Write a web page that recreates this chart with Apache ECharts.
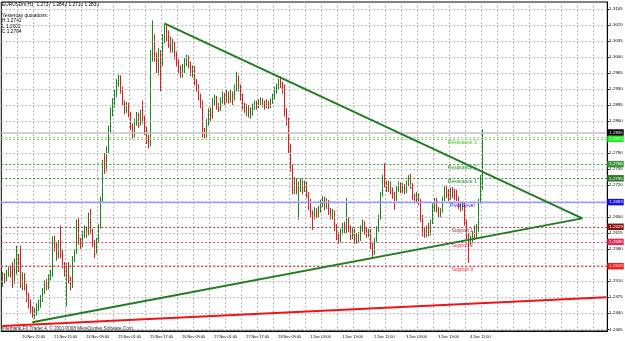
<!DOCTYPE html>
<html>
<head>
<meta charset="utf-8">
<title>EURUSDm,H1</title>
<script src="https://cdn.jsdelivr.net/npm/echarts@6/dist/echarts.min.js"></script>
<style>
  html, body { margin: 0; padding: 0; background: #fff; }
  #chart { width: 625px; height: 341px; }
</style>
</head>
<body>
<div id="chart"></div>
<script>
// EURUSDm H1 bars, 20 Nov 2008 14:00 .. 4 Dec 2008 (241 bars)
const openVals = [
  1.2505, 1.2522, 1.2512, 1.2528, 1.2535, 1.2545, 1.2510, 1.2530, 1.2560, 1.2560,
  1.2500, 1.2520, 1.2498, 1.2475, 1.2462, 1.2448, 1.2438, 1.2445, 1.2452, 1.2460,
  1.2470, 1.2490, 1.2505, 1.2498, 1.2520, 1.2528, 1.2600, 1.2585, 1.2565, 1.2585,
  1.2570, 1.2545, 1.2530, 1.2545, 1.2515, 1.2500, 1.2560, 1.2575, 1.2640, 1.2598,
  1.2590, 1.2612, 1.2625, 1.2615, 1.2655, 1.2620, 1.2595, 1.2578, 1.2600, 1.2630,
  1.2690, 1.2770, 1.2755, 1.2800, 1.2845, 1.2880, 1.2900, 1.2920, 1.2945, 1.2955,
  1.2930, 1.2900, 1.2885, 1.2895, 1.2875, 1.2850, 1.2830, 1.2860, 1.2872, 1.2858,
  1.2868, 1.2866, 1.2840, 1.2820, 1.2815, 1.3000, 1.3040, 1.3000, 1.2975, 1.3010,
  1.2985, 1.3040, 1.3060, 1.3045, 1.3030, 1.3020, 1.3030, 1.3005, 1.2990, 1.2975,
  1.2962, 1.2975, 1.2990, 1.3000, 1.2985, 1.2965, 1.2975, 1.2945, 1.2935, 1.2915,
  1.2900, 1.2835, 1.2830, 1.2858, 1.2880, 1.2870, 1.2900, 1.2910, 1.2895, 1.2888,
  1.2905, 1.2915, 1.2905, 1.2920, 1.2908, 1.2918, 1.2915, 1.2930, 1.2955, 1.2935,
  1.2915, 1.2895, 1.2885, 1.2890, 1.2878, 1.2880, 1.2892, 1.2900, 1.2893, 1.2902,
  1.2905, 1.2898, 1.2892, 1.2900, 1.2894, 1.2905, 1.2915, 1.2928, 1.2935, 1.2945,
  1.2940, 1.2935, 1.2880, 1.2862, 1.2800, 1.2760, 1.2708, 1.2730, 1.2710, 1.2720,
  1.2728, 1.2712, 1.2722, 1.2700, 1.2680, 1.2660, 1.2650, 1.2665, 1.2655, 1.2668,
  1.2680, 1.2690, 1.2675, 1.2685, 1.2665, 1.2652, 1.2660, 1.2630, 1.2612, 1.2600,
  1.2618, 1.2630, 1.2622, 1.2645, 1.2625, 1.2610, 1.2620, 1.2598, 1.2610, 1.2602,
  1.2625, 1.2638, 1.2620, 1.2612, 1.2620, 1.2590, 1.2575, 1.2600, 1.2625, 1.2650,
  1.2700, 1.2735, 1.2725, 1.2712, 1.2725, 1.2708, 1.2700, 1.2690, 1.2712, 1.2722,
  1.2710, 1.2718, 1.2708, 1.2725, 1.2735, 1.2720, 1.2695, 1.2690, 1.2698, 1.2685,
  1.2650, 1.2620, 1.2612, 1.2625, 1.2615, 1.2640, 1.2670, 1.2688, 1.2668, 1.2655,
  1.2665, 1.2690, 1.2712, 1.2700, 1.2692, 1.2708, 1.2700, 1.2705, 1.2690, 1.2675,
  1.2670, 1.2678, 1.2640, 1.2610, 1.2595, 1.2605, 1.2615, 1.2608, 1.2625, 1.2685,
  1.2737
]
const closeVals = [
  1.2522, 1.2512, 1.2528, 1.2535, 1.2525, 1.2510, 1.2530, 1.2560, 1.2540, 1.2500,
  1.2520, 1.2498, 1.2475, 1.2462, 1.2448, 1.2438, 1.2445, 1.2455, 1.2462, 1.2472,
  1.2490, 1.2505, 1.2498, 1.2520, 1.2528, 1.2600, 1.2585, 1.2565, 1.2585, 1.2570,
  1.2545, 1.2530, 1.2545, 1.2515, 1.2500, 1.2560, 1.2575, 1.2640, 1.2598, 1.2590,
  1.2612, 1.2625, 1.2615, 1.2655, 1.2620, 1.2595, 1.2578, 1.2600, 1.2630, 1.2690,
  1.2770, 1.2755, 1.2800, 1.2845, 1.2880, 1.2900, 1.2920, 1.2945, 1.2955, 1.2930,
  1.2900, 1.2885, 1.2895, 1.2875, 1.2850, 1.2830, 1.2860, 1.2872, 1.2858, 1.2868,
  1.2866, 1.2840, 1.2820, 1.2815, 1.3000, 1.3040, 1.3000, 1.2975, 1.3010, 1.2985,
  1.3040, 1.3060, 1.3045, 1.3030, 1.3020, 1.3030, 1.3005, 1.2990, 1.2975, 1.2962,
  1.2975, 1.2990, 1.3000, 1.2985, 1.2965, 1.2975, 1.2945, 1.2935, 1.2915, 1.2900,
  1.2835, 1.2830, 1.2858, 1.2880, 1.2870, 1.2900, 1.2910, 1.2895, 1.2888, 1.2905,
  1.2915, 1.2905, 1.2920, 1.2908, 1.2918, 1.2915, 1.2930, 1.2955, 1.2935, 1.2915,
  1.2895, 1.2885, 1.2890, 1.2878, 1.2880, 1.2892, 1.2900, 1.2893, 1.2902, 1.2905,
  1.2898, 1.2892, 1.2900, 1.2894, 1.2905, 1.2915, 1.2928, 1.2935, 1.2945, 1.2940,
  1.2930, 1.2880, 1.2862, 1.2800, 1.2760, 1.2708, 1.2730, 1.2710, 1.2720, 1.2728,
  1.2712, 1.2722, 1.2700, 1.2680, 1.2660, 1.2650, 1.2665, 1.2655, 1.2668, 1.2680,
  1.2690, 1.2675, 1.2685, 1.2665, 1.2652, 1.2660, 1.2630, 1.2612, 1.2600, 1.2618,
  1.2630, 1.2622, 1.2645, 1.2625, 1.2610, 1.2620, 1.2598, 1.2610, 1.2602, 1.2625,
  1.2638, 1.2620, 1.2612, 1.2620, 1.2590, 1.2575, 1.2600, 1.2625, 1.2650, 1.2700,
  1.2735, 1.2725, 1.2712, 1.2725, 1.2708, 1.2700, 1.2690, 1.2712, 1.2722, 1.2710,
  1.2718, 1.2708, 1.2725, 1.2735, 1.2720, 1.2695, 1.2690, 1.2698, 1.2685, 1.2650,
  1.2620, 1.2612, 1.2625, 1.2615, 1.2640, 1.2670, 1.2688, 1.2668, 1.2655, 1.2665,
  1.2690, 1.2712, 1.2700, 1.2692, 1.2708, 1.2700, 1.2695, 1.2690, 1.2675, 1.2670,
  1.2678, 1.2640, 1.2610, 1.2595, 1.2605, 1.2615, 1.2608, 1.2625, 1.2685, 1.2737,
  1.2835
]
const lowVals = [
  1.2498, 1.2505, 1.2508, 1.2520, 1.2518, 1.2495, 1.2505, 1.2525, 1.2530, 1.2495,
  1.2490, 1.2490, 1.2465, 1.2450, 1.2440, 1.2430, 1.2428, 1.2435, 1.2445, 1.2452,
  1.2465, 1.2482, 1.2490, 1.2492, 1.2512, 1.2520, 1.2575, 1.2555, 1.2560, 1.2560,
  1.2538, 1.2520, 1.2455, 1.2505, 1.2490, 1.2495, 1.2552, 1.2570, 1.2590, 1.2580,
  1.2585, 1.2605, 1.2605, 1.2610, 1.2612, 1.2585, 1.2560, 1.2570, 1.2595, 1.2625,
  1.2685, 1.2745, 1.2750, 1.2790, 1.2835, 1.2870, 1.2890, 1.2912, 1.2935, 1.2920,
  1.2895, 1.2875, 1.2878, 1.2868, 1.2840, 1.2822, 1.2825, 1.2850, 1.2845, 1.2850,
  1.2855, 1.2830, 1.2810, 1.2800, 1.2805, 1.2990, 1.2990, 1.2965, 1.2960, 1.2925,
  1.2980, 1.3030, 1.3035, 1.3020, 1.3010, 1.3010, 1.2995, 1.2980, 1.2965, 1.2955,
  1.2955, 1.2965, 1.2980, 1.2975, 1.2958, 1.2955, 1.2938, 1.2925, 1.2905, 1.2888,
  1.2825, 1.2822, 1.2825, 1.2850, 1.2860, 1.2865, 1.2895, 1.2885, 1.2880, 1.2882,
  1.2898, 1.2895, 1.2900, 1.2898, 1.2900, 1.2895, 1.2905, 1.2925, 1.2925, 1.2905,
  1.2885, 1.2878, 1.2870, 1.2868, 1.2865, 1.2872, 1.2885, 1.2885, 1.2888, 1.2895,
  1.2890, 1.2885, 1.2888, 1.2886, 1.2888, 1.2898, 1.2908, 1.2920, 1.2930, 1.2932,
  1.2920, 1.2870, 1.2850, 1.2790, 1.2750, 1.2700, 1.2700, 1.2700, 1.2645, 1.2705,
  1.2700, 1.2705, 1.2692, 1.2665, 1.2650, 1.2622, 1.2645, 1.2648, 1.2650, 1.2660,
  1.2672, 1.2665, 1.2668, 1.2655, 1.2645, 1.2645, 1.2620, 1.2600, 1.2592, 1.2595,
  1.2612, 1.2615, 1.2615, 1.2618, 1.2600, 1.2602, 1.2592, 1.2592, 1.2595, 1.2598,
  1.2618, 1.2612, 1.2605, 1.2606, 1.2580, 1.2562, 1.2568, 1.2595, 1.2618, 1.2645,
  1.2695, 1.2715, 1.2705, 1.2705, 1.2700, 1.2690, 1.2666, 1.2685, 1.2705, 1.2702,
  1.2702, 1.2700, 1.2702, 1.2718, 1.2712, 1.2688, 1.2680, 1.2682, 1.2676, 1.2640,
  1.2608, 1.2605, 1.2606, 1.2608, 1.2610, 1.2635, 1.2662, 1.2660, 1.2648, 1.2650,
  1.2660, 1.2685, 1.2692, 1.2685, 1.2688, 1.2692, 1.2688, 1.2685, 1.2668, 1.2662,
  1.2665, 1.2632, 1.2602, 1.2550, 1.2588, 1.2595, 1.2600, 1.2602, 1.2618, 1.2680,
  1.2710
]
const highVals = [
  1.2530, 1.2528, 1.2535, 1.2542, 1.2545, 1.2552, 1.2560, 1.2588, 1.2570, 1.2588,
  1.2530, 1.2528, 1.2505, 1.2485, 1.2470, 1.2455, 1.2452, 1.2462, 1.2470, 1.2480,
  1.2495, 1.2512, 1.2515, 1.2525, 1.2535, 1.2608, 1.2610, 1.2595, 1.2600, 1.2632,
  1.2580, 1.2552, 1.2550, 1.2552, 1.2520, 1.2565, 1.2580, 1.2645, 1.2648, 1.2605,
  1.2620, 1.2632, 1.2630, 1.2660, 1.2668, 1.2625, 1.2600, 1.2605, 1.2635, 1.2695,
  1.2775, 1.2790, 1.2805, 1.2850, 1.2890, 1.2910, 1.2928, 1.2952, 1.2962, 1.2960,
  1.2935, 1.2905, 1.2902, 1.2900, 1.2880, 1.2855, 1.2865, 1.2880, 1.2878, 1.2885,
  1.2905, 1.2872, 1.2848, 1.2830, 1.3015, 1.3080, 1.3050, 1.3010, 1.3020, 1.3015,
  1.3050, 1.3072, 1.3068, 1.3058, 1.3045, 1.3040, 1.3035, 1.3012, 1.2995, 1.2982,
  1.2985, 1.2998, 1.3005, 1.3004, 1.2990, 1.2982, 1.2980, 1.2952, 1.2940, 1.2920,
  1.2905, 1.2845, 1.2865, 1.2888, 1.2890, 1.2910, 1.2918, 1.2915, 1.2900, 1.2912,
  1.2925, 1.2922, 1.2928, 1.2925, 1.2930, 1.2925, 1.2940, 1.2968, 1.2960, 1.2940,
  1.2920, 1.2900, 1.2898, 1.2895, 1.2890, 1.2898, 1.2905, 1.2905, 1.2908, 1.2912,
  1.2910, 1.2905, 1.2908, 1.2905, 1.2910, 1.2920, 1.2935, 1.2942, 1.2952, 1.2958,
  1.2946, 1.2940, 1.2888, 1.2868, 1.2810, 1.2765, 1.2738, 1.2735, 1.2728, 1.2735,
  1.2732, 1.2730, 1.2728, 1.2705, 1.2690, 1.2665, 1.2672, 1.2670, 1.2675, 1.2688,
  1.2696, 1.2695, 1.2692, 1.2688, 1.2670, 1.2668, 1.2665, 1.2635, 1.2618, 1.2625,
  1.2638, 1.2640, 1.2692, 1.2650, 1.2632, 1.2628, 1.2625, 1.2615, 1.2618, 1.2632,
  1.2645, 1.2642, 1.2628, 1.2625, 1.2624, 1.2595, 1.2605, 1.2630, 1.2655, 1.2705,
  1.2742, 1.2768, 1.2730, 1.2730, 1.2728, 1.2715, 1.2705, 1.2718, 1.2728, 1.2726,
  1.2725, 1.2722, 1.2730, 1.2742, 1.2745, 1.2725, 1.2702, 1.2705, 1.2702, 1.2690,
  1.2655, 1.2628, 1.2632, 1.2638, 1.2645, 1.2680, 1.2692, 1.2692, 1.2672, 1.2670,
  1.2695, 1.2718, 1.2718, 1.2712, 1.2715, 1.2716, 1.2712, 1.2710, 1.2695, 1.2682,
  1.2685, 1.2682, 1.2645, 1.2615, 1.2610, 1.2620, 1.2632, 1.2635, 1.2690, 1.2742,
  1.2842
]

// empty bars to the right (chart shift)
const barSlots = 303

// time axis labels and the bar they sit on
const timeLabels = ['20 Nov 2008', '20 Nov 22:00', '21 Nov 15:00', '24 Nov 09:00', '25 Nov 01:00',
  '25 Nov 17:00', '26 Nov 09:00', '27 Nov 01:00', '27 Nov 17:00', '28 Nov 09:00', '1 Dec 03:00',
  '1 Dec 19:00', '2 Dec 11:00', '3 Dec 03:00', '3 Dec 19:00', '4 Dec 11:00']
const timeLabelBars = [0, 10, 26, 42, 58, 74, 90, 106, 122, 138, 154, 170, 186, 202, 218, 234]

// price scale ticks
const priceTicks = [1.2405, 1.2440, 1.2475, 1.2510, 1.2545, 1.2580, 1.2615, 1.2650, 1.2685, 1.2720,
  1.2755, 1.2790, 1.2825, 1.2860, 1.2895, 1.2930, 1.2965, 1.3000, 1.3035, 1.3070, 1.3105]

// pivot levels
const levelNames = ['Resistance 3', 'Resistance 2', 'Resistance 1', 'Pivot Level', 'Support 1', 'Support 2', 'Support 3']
const levelValues = [1.2821, 1.2766, 1.2735, 1.2683, 1.2629, 1.2596, 1.2543]
const bidPrice = 1.2835

// trend lines [bar, price]
const upperTrend = [[81, 1.30737], [290, 1.26474]]
const lowerTrend = [[15, 1.24205], [290, 1.26474]]
const longTrend = [[0, 1.24122], [302, 1.2475]]

const headerLines = ['EURUSDm,H1  1.2737 1.2842 1.2710 1.2835', 'Yesterday quotations:', 'H 1.2741', 'L 1.2602', 'C 1.2704']
const footerText = 'Interbank FX Trader 4, \u00a9 2001-2008 MetaQuotes Software Corp.'

// styles
const font = 'Liberation Sans'
const levelLine = ['#66e633', '#3a9a3a', '#2f8a2f', '#9c9cff', '#a83a3a', '#e8406a', '#ff3030']
const levelBox = ['#22ee22', '#3c9a3c', '#2e7d2e', '#1010ff', '#8b1414', '#e02a55', '#ff1a1a']
const levelText = ['#44c422', '#2f922f', '#2a822a', '#2020ff', '#a83535', '#e03060', '#ff2a2a']

const categories = Array.from({ length: barSlots }, (_, i) => String(i))
const candles = openVals.map((o, i) => [o, closeVals[i], lowVals[i], highVals[i]])
const labelAt = new Map(timeLabelBars.map((b, k) => [b, timeLabels[k]]))

const chart = echarts.init(document.getElementById('chart'), null, { renderer: 'canvas' })

function boxLabel (text, bg) {
  return {
    show: true,
    position: 'end',
    distance: 0,
    formatter: text,
    color: '#fff',
    backgroundColor: bg,
    padding: [1, 1, 0.5, 2],
    fontSize: 4.4,
    lineHeight: 5,
    fontFamily: font
  }
}

const option = {
  animation: false,
  backgroundColor: '#fff',
  grid: {
    left: 1.3,
    right: 17.7,
    top: 2,
    bottom: 10,
    show: true,
    borderColor: '#000',
    borderWidth: 1,
    outerBoundsMode: 'none'
  },
  xAxis: {
    type: 'category',
    data: categories,
    boundaryGap: true,
    axisLine: { show: true, lineStyle: { color: '#000', width: 1 } },
    axisTick: { show: false },
    axisLabel: {
      interval: (index) => labelAt.has(index),
      formatter: (value, index) => labelAt.get(index) || '',
      align: 'left',
      margin: 4,
      fontSize: 3.8,
      color: '#000',
      fontFamily: font
    },
    splitLine: {
      show: true,
      interval: (index) => index > 0 && index % 8 === 0,
      lineStyle: { color: '#b8b8b8', type: [2, 2], width: 1 }
    }
  },
  yAxis: {
    type: 'value',
    position: 'right',
    min: 1.24013,
    max: 1.31203,
    scale: true,
    axisLine: { show: true, lineStyle: { color: '#000', width: 1 } },
    axisTick: { show: true, customValues: priceTicks, length: 2, lineStyle: { color: '#000' } },
    axisLabel: {
      customValues: priceTicks,
      formatter: (v) => v.toFixed(4),
      margin: 2,
      fontSize: 4.4,
      color: '#000',
      fontFamily: font
    },
    splitLine: { show: false }
  },
  graphic: headerLines.map((t, k) => ({
    type: 'text',
    left: 2,
    top: k === 0 ? 2.5 : 7.6 + k * 5.4,
    style: { text: t, fill: '#000', fontSize: 4.8, fontFamily: font }
  })).concat([{
    type: 'text',
    left: 2,
    top: 326,
    style: { text: footerText, fill: '#222', fontSize: 4.6, fontFamily: font }
  }]),
  series: [
    {
      // horizontal price grid
      name: 'grid',
      type: 'line',
      data: [],
      z: 1,
      silent: true,
      markLine: {
        silent: true,
        symbol: 'none',
        precision: 5,
        animation: false,
        label: { show: false },
        lineStyle: { color: '#b8b8b8', type: [2, 2], width: 1 },
        data: priceTicks.map(v => ({ yAxis: v }))
      }
    },
    {
      name: 'EURUSDm',
      type: 'candlestick',
      data: candles,
      z: 3,
      barWidth: 1,
      itemStyle: {
        color: '#128a16',
        color0: '#ec1818',
        borderColor: '#128a16',
        borderColor0: '#ec1818',
        borderWidth: 1
      }
    },
    {
      // pivot levels and bid line
      name: 'levels',
      type: 'line',
      data: [],
      z: 4,
      silent: true,
      markLine: {
        silent: true,
        symbol: 'none',
        precision: 5,
        animation: false,
        data: [{
          yAxis: bidPrice,
          lineStyle: { color: '#c0c0c0', type: 'solid', width: 1.6 },
          label: boxLabel(bidPrice.toFixed(4), '#000')
        }].concat(levelValues.map((v, k) => ({
          yAxis: v,
          lineStyle: {
            color: levelLine[k],
            type: k === 3 ? 'solid' : [2, 2],
            width: k === 3 ? 1.4 : 1
          },
          label: boxLabel(v.toFixed(4), levelBox[k])
        })))
      },
      markPoint: {
        silent: true,
        symbol: 'rect',
        symbolSize: 0,
        animation: false,
        label: {
          show: true,
          position: 'bottom',
          distance: 1,
          fontSize: 5,
          fontFamily: font
        },
        data: levelNames.map((n, k) => ({
          coord: [230, levelValues[k]],
          label: { formatter: n, color: levelText[k] }
        }))
      }
    },
    {
      name: 'upper',
      type: 'line',
      data: upperTrend,
      z: 5,
      silent: true,
      symbol: 'none',
      lineStyle: { color: '#1f7d1f', width: 2 }
    },
    {
      name: 'lower',
      type: 'line',
      data: lowerTrend,
      z: 5,
      silent: true,
      symbol: 'none',
      lineStyle: { color: '#1f7d1f', width: 2 }
    },
    {
      name: 'long',
      type: 'line',
      data: longTrend,
      z: 5,
      silent: true,
      symbol: 'none',
      lineStyle: { color: '#f01414', width: 2 }
    }
  ]
}

chart.setOption(option)
</script>
</body>
</html>
